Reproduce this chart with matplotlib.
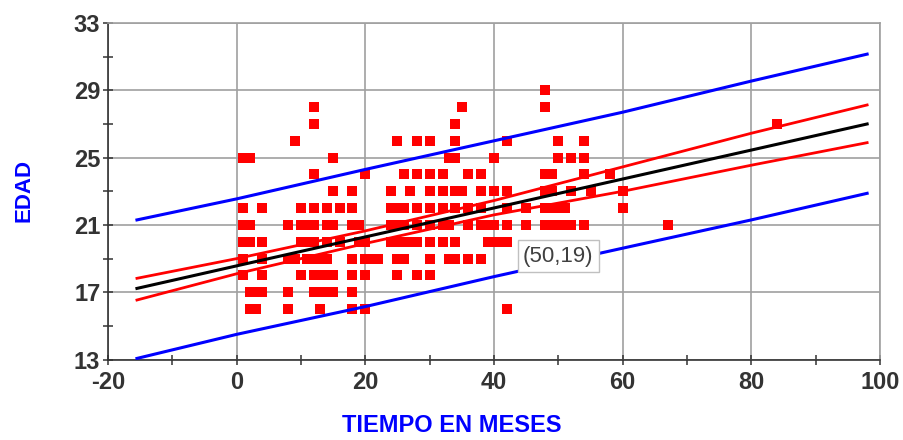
import matplotlib.pyplot as plt
import numpy as np

plt.rcParams['font.family'] = ['Liberation Sans', 'DejaVu Sans']
plt.rcParams['axes.unicode_minus'] = False

# puntos (meses) por cada edad
edad_16 = [2, 3, 8, 13, 18, 20, 42]
edad_17 = [2, 3, 4, 8, 12, 13, 14, 15, 18]
edad_18 = [1, 4, 10, 12, 13, 14, 15, 18, 20, 25, 28, 30]
edad_19 = [1, 4, 8, 9, 11, 12, 13, 14, 18, 20, 21, 22, 25, 26, 30, 33, 34, 36, 38]
edad_20 = [1, 2, 4, 10, 11, 12, 14, 16, 19, 20, 24, 25, 26, 27, 28, 30, 32, 34,
           39, 40, 41, 42]
edad_21 = [1, 2, 8, 10, 11, 12, 14, 15, 18, 19, 24, 25, 26, 28, 30, 32, 33, 36,
           38, 39, 40, 42, 45, 48, 49, 50, 51, 52, 54, 67]
edad_22 = [1, 4, 10, 12, 14, 16, 18, 24, 25, 26, 28, 30, 32, 34, 36, 38, 42, 45,
           48, 49, 50, 51, 60]
edad_23 = [15, 18, 24, 27, 30, 32, 34, 35, 38, 40, 42, 48, 49, 52, 55, 60]
edad_24 = [12, 20, 26, 28, 30, 32, 36, 38, 48, 49, 54, 58]
edad_25 = [1, 2, 15, 33, 34, 40, 50, 52, 54]
edad_26 = [9, 25, 28, 30, 34, 42, 50, 54]
edad_27 = [12, 34, 84]
edad_28 = [12, 35, 48]
edad_29 = [48]

filas = {16: edad_16, 17: edad_17, 18: edad_18, 19: edad_19, 20: edad_20,
         21: edad_21, 22: edad_22, 23: edad_23, 24: edad_24, 25: edad_25,
         26: edad_26, 27: edad_27, 28: edad_28, 29: edad_29}

# recta de regresion y bandas
banda_x = [-15.5, 0, 20, 40, 60, 80, 98]
ajuste = [17.23, 18.57, 20.29, 22.01, 23.73, 25.45, 27.0]
conf_sup = [17.83, 19.0, 20.65, 22.45, 24.45, 26.45, 28.13]
conf_inf = [16.54, 18.1, 19.9, 21.6, 23.0, 24.55, 25.89]
pred_sup = [21.3, 22.55, 24.3, 26.0, 27.7, 29.55, 31.15]
pred_inf = [13.07, 14.5, 16.15, 17.93, 19.62, 21.3, 22.88]

meses = []
edades = []
for e, xs in filas.items():
    meses += xs
    edades += [e] * len(xs)

fig = plt.figure(figsize=(9.04, 4.4), dpi=100)
ax = fig.add_axes([108 / 904, 80.4 / 440, 772 / 904, 336.6 / 440])

ax.scatter(meses, edades, marker='s', s=48, color='#ff0000', linewidths=0, zorder=3)

ax.plot(banda_x, pred_sup, color='#0000ff', lw=2.2, zorder=4)
ax.plot(banda_x, pred_inf, color='#0000ff', lw=2.2, zorder=4)
ax.plot(banda_x, conf_sup, color='#ff0000', lw=2.0, zorder=4)
ax.plot(banda_x, conf_inf, color='#ff0000', lw=2.0, zorder=4)
ax.plot(banda_x, ajuste, color='black', lw=2.2, zorder=5)

ax.text(50, 19.15, "(50,19)", ha='center', va='center', fontsize=16,
        color='#404040', zorder=6,
        bbox=dict(boxstyle='square,pad=0.25', fc='white', ec='#c0c0c0', lw=1))

ax.set_xlim(-20, 100)
ax.set_ylim(13, 33)
ax.set_xticks(np.arange(-20, 101, 20))
ax.set_xticks(np.arange(-10, 100, 20), minor=True)
ax.set_yticks(np.arange(13, 34, 4))
ax.set_yticks(np.arange(15, 33, 4), minor=True)

ax.grid(True, which='major', color='#a0a0a0', lw=1.2)
ax.set_axisbelow(True)
for s in ['top', 'right']:
    ax.spines[s].set_color('#a0a0a0')
    ax.spines[s].set_linewidth(1.2)
for s in ['left', 'bottom']:
    ax.spines[s].set_color('#333333')
    ax.spines[s].set_linewidth(1.2)

ax.tick_params(which='both', direction='inout', length=7, width=1.1, color='#333333',
               top=False, right=False)
ax.tick_params(axis='both', labelsize=17, labelcolor='#333333')
ax.tick_params(axis='x', pad=5)
ax.tick_params(axis='y', pad=2)
for lab in ax.get_xticklabels() + ax.get_yticklabels():
    lab.set_fontweight('bold')

fig.text(0.5, 0.032, "TIEMPO EN MESES", ha='center', va='center', fontsize=17,
         fontweight='bold', color='#0000ff')
fig.text(0.026, 0.568, "EDAD", ha='center', va='center', rotation=90, fontsize=16,
         fontweight='bold', color='#0000ff')

fig.savefig('out.png', dpi=100, facecolor='white')
